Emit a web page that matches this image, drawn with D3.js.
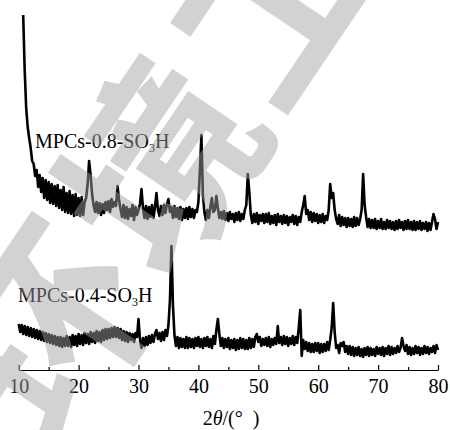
<!DOCTYPE html>
<html>
<head>
<meta charset="utf-8">
<script src="https://cdn.jsdelivr.net/npm/d3@7/dist/d3.min.js"></script>
<style>
  html, body { margin: 0; padding: 0; background: #fff; }
  svg { display: block; }
</style>
</head>
<body>
<svg id="chart" width="450" height="430"></svg>
<script>
// ---- data -------------------------------------------------------------
const majorTicks = [10, 20, 30, 40, 50, 60, 70, 80];
const minorTicks = [15, 25, 35, 45, 55, 65, 75];
const sampleNames = ["MPCs-0.8-SO", "MPCs-0.4-SO"];
const watermarkChars = ["环", "境", "工", "程"];

// scan grid: 0.25° steps
const scanStep = 0.25;
const start08 = 10.75;
const start04 = 10;

// MPCs-0.8-SO3H intensity (a.u.), 10.75°–80°
const intensity08 = [
  355,
  300, 262, 243, 232,  222, 209, 206, 194,  200, 183, 195, 178,  192, 172, 190, 170,
  188, 167, 186, 166,  184, 164, 185, 162,  180, 160, 183, 158,  177, 157, 179, 156,
  175, 154, 176, 155,  172, 154, 173, 155,  168, 172, 185, 209,  195, 176, 165, 158,
  168, 157, 167, 155,  166, 157, 168, 160,  169, 158, 171, 163,  168, 164, 184, 170,
  161, 153, 165, 152,  163, 151, 161, 154,  165, 150, 163, 155,  160, 166, 181, 162,
  152, 164, 151, 163,  153, 165, 152, 163,  177, 160, 154, 164,  155, 165, 157, 166,
  171, 158, 163, 152,  164, 153, 162, 151,  163, 150, 161, 152,  162, 151, 163, 153,
  161, 152, 160, 158,  168, 200, 235, 175,  158, 150, 160, 152,  163, 172, 158, 160,
  174, 162, 152, 158,  151, 159, 150, 157,  149, 158, 151, 156,  148, 157, 150, 158,
  149, 156, 151, 160,  165, 196, 178, 155,  147, 156, 148, 157,  146, 155, 149, 156,
  147, 156, 148, 157,  146, 154, 147, 155,  145, 156, 148, 154,  146, 155, 147, 154,
  145, 153, 148, 155,  146, 154, 145, 153,  148, 158, 165, 174,  156, 160, 150, 158,
  148, 157, 149, 156,  147, 155, 148, 156,  147, 154, 150, 160,  186, 172, 177, 160,
  151, 146, 155, 144,  153, 145, 152, 143,  152, 144, 151, 143,  153, 144, 152, 145,
  151, 160, 196, 165,  153, 143, 151, 142,  150, 142, 151, 141,  149, 142, 151, 141,
  148, 141, 150, 142,  149, 141, 148, 140,  149, 141, 150, 142,  148, 140, 149, 141,
  150, 141, 148, 140,  149, 140, 148, 141,  149, 140, 147, 141,  148, 139, 147, 140,
  148, 156, 151, 141,
  148
];

// MPCs-0.4-SO3H intensity (a.u.), 10°–80°
const intensity04 = [
  46, 38, 45, 36,  44, 35, 43, 34,  42, 33, 41, 32,  40, 31, 39, 30,  38, 29, 37, 28,
  36, 27, 35, 26,  34, 25, 33, 24,  33, 23, 32, 24,  34, 24, 33, 23,  35, 25, 34, 24,
  36, 26, 35, 25,  37, 27, 36, 26,  38, 28, 37, 27,  39, 29, 38, 28,  40, 30, 41, 31,
  41, 32, 42, 33,  43, 33, 42, 32,  41, 30, 39, 29,  38, 28, 37, 30,  36, 28, 37, 33,
  51, 30, 22, 32,  24, 33, 25, 34,  27, 35, 28, 36,  40, 31, 37, 29,  38, 30, 40, 34,
  45, 70, 124, 65, 35, 24, 33, 22,  32, 23, 31, 22,  33, 22, 32, 23,  31, 22, 32, 24,
  33, 23, 31, 22,  32, 24, 33, 23,  31, 22, 34, 26,  40, 51, 36, 24,  32, 22, 31, 23,
  32, 21, 30, 22,  31, 20, 30, 21,  32, 22, 31, 21,  30, 21, 32, 22,  31, 23, 33, 36,
  28, 33, 24, 31,  25, 32, 24, 33,  23, 31, 25, 32,  26, 44, 27, 33,  25, 34, 26, 33,
  24, 32, 26, 34,  25, 33, 27, 42,  60, 14, 30, 21,  28, 19, 27, 18,  26, 18, 27, 19,
  27, 17, 26, 18,  26, 19, 28, 20,  30, 42, 67, 38,  22, 25, 17, 27,  24, 28, 18, 24,
  16, 24, 15, 23,  14, 22, 15, 23,  14, 21, 13, 22,  15, 23, 14, 22,  15, 21, 14, 23,
  16, 22, 15, 23,  14, 22, 16, 24,  15, 23, 16, 22,  17, 24, 18, 22,  32, 24, 19, 25,
  16, 23, 15, 22,  16, 24, 17, 23,  15, 22, 16, 24,  17, 23, 16, 22,  18, 24, 17, 25,
  20
];

// ---- layout -----------------------------------------------------------
const svg = d3.select("#chart");
const serif = "'Liberation Serif', 'Times New Roman', serif";

const x = d3.scaleLinear().domain([10, 80]).range([18.7, 438]);
const y = d3.scaleLinear().domain([0, 355]).range([370, 15]);

const toPoints = (start, values) => values.map((v, i) => [start + i * scanStep, v]);

const line = d3.line()
  .x(d => x(d[0]))
  .y(d => y(d[1]));

// ---- axis -------------------------------------------------------------
const axisG = svg.append("g").attr("transform", "translate(0,370)");

axisG.call(
  d3.axisBottom(x)
    .tickValues(majorTicks)
    .tickSizeInner(-5)
    .tickSizeOuter(0)
    .tickPadding(9)
    .tickFormat(d3.format("d"))
);
axisG.select(".domain").attr("stroke", "#000").attr("stroke-width", 1.2);
axisG.selectAll(".tick line").attr("stroke", "#000").attr("stroke-width", 1.2);
axisG.selectAll(".tick text")
  .attr("fill", "#000")
  .style("font-family", serif)
  .style("font-size", "20px");

const minorG = svg.append("g").attr("transform", "translate(0,370)");
minorG.call(
  d3.axisBottom(x)
    .tickValues(minorTicks)
    .tickSizeInner(-3)
    .tickSizeOuter(0)
    .tickFormat("")
);
minorG.select(".domain").remove();
minorG.selectAll(".tick line").attr("stroke", "#000").attr("stroke-width", 1.2);

// axis title: 2θ/(°)
const title = svg.append("text")
  .attr("x", 231)
  .attr("y", 425)
  .attr("text-anchor", "middle")
  .style("font-family", serif)
  .style("font-size", "20px")
  .attr("fill", "#000");
title.append("tspan").text("2");
title.append("tspan").style("font-style", "italic").text("θ");
title.append("tspan").text("/(°\u2002)");

// ---- patterns ---------------------------------------------------------
const patterns = [
  { values: toPoints(start08, intensity08) },
  { values: toPoints(start04, intensity04) }
];

svg.selectAll("path.pattern")
  .data(patterns)
  .join("path")
  .attr("class", "pattern")
  .attr("d", d => line(d.values))
  .attr("fill", "none")
  .attr("stroke", "#000")
  .attr("stroke-width", 2.6)
  .attr("stroke-linejoin", "round");

// sample labels with subscript 3
const labelPos = [[35, 148], [18, 302]];
sampleNames.forEach((name, i) => {
  const t = svg.append("text")
    .attr("x", labelPos[i][0])
    .attr("y", labelPos[i][1])
    .style("font-family", serif)
    .style("font-size", "20px")
    .attr("fill", "#000");
  t.append("tspan").text(name);
  t.append("tspan").attr("dy", 4).style("font-size", "12px").text("3");
  t.append("tspan").attr("dy", -4).text("H");
});

// ---- watermark ----------------------------------------------------------
const wm = svg.append("g")
  .attr("transform", "translate(152,158) rotate(-56)")
  .style("pointer-events", "none");
wm.selectAll("text")
  .data(watermarkChars)
  .join("text")
  .attr("x", (d, i) => (i - 1) * 200)
  .attr("y", 0)
  .attr("text-anchor", "middle")
  .attr("dominant-baseline", "central")
  .style("font-family", "'Noto Sans CJK SC'")
  .style("font-weight", 700)
  .style("font-size", "195px")
  .attr("fill", "#a0a0a0")
  .attr("fill-opacity", 0.48)
  .text(d => d);
</script>
</body>
</html>
